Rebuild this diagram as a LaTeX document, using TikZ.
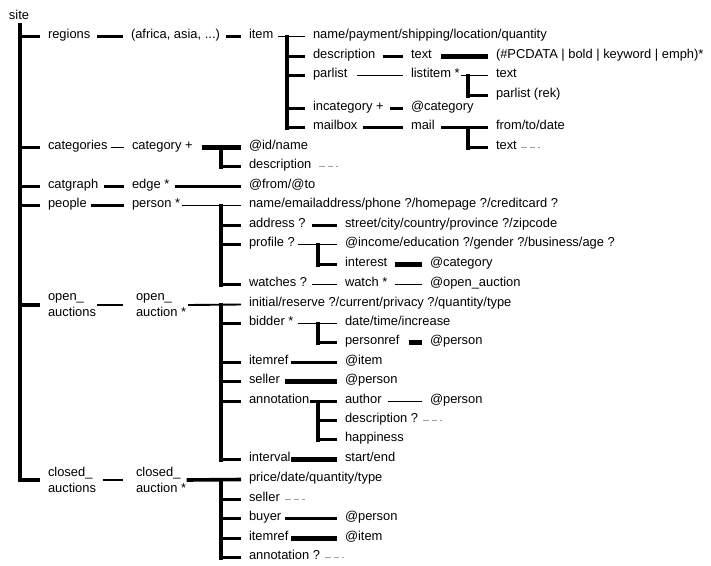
\documentclass[tikz,border=0pt]{standalone}
\usepackage{fontspec}
\newfontfamily\lbfamily{Liberation Sans}
\newcommand\lbfont{\lbfamily\fontsize{12.9}{15.8}\selectfont}
\begin{document}
\begin{tikzpicture}[x=1pt,y=-1pt,
  lbl/.style={anchor=mid west, inner sep=0pt, outer sep=0pt, font=\lbfont},
  two/.style={anchor=west, inner sep=0pt, outer sep=0pt, align=left, font=\lbfont},
  wA/.style={line width=1.9pt},
  wB/.style={line width=2.8pt},
  wC/.style={line width=3.6pt},
  wD/.style={line width=4.2pt},
  wE/.style={line width=5pt},
  vert/.style={line width=4pt, line cap=rect},
  gd/.style={draw=gray!75, line width=1.4pt, dash pattern=on 6pt off 3pt on 5pt off 3pt on 2.5pt off 20pt}]
\useasboundingbox (0,0) rectangle (711,565);
\begin{scope}[yshift=-1.5pt]
% ---- nodes ----
\node[lbl] (site) at (9,16) {site};
\coordinate (T) at (20,23);

\node[lbl] (reg) at (48,35) {regions};
\node[lbl] (cats) at (48,146) {categories};
\node[lbl] (cg) at (48,185) {catgraph};
\node[lbl] (ppl) at (48,204) {people};
\node[two] (oas) at (48,303.5) {open\_\\auctions};
\node[two] (cas) at (48,478.5) {closed\_\\auctions};

\node[lbl] (afr) at (131,35) {(africa, asia, ...)};
\node[lbl] (cat) at (132,146) {category +};
\node[lbl] (edge) at (132,185) {edge *};
\node[lbl] (per) at (132,204) {person *};
\node[two] (oa) at (136,303.5) {open\_\\auction *};
\node[two] (ca) at (136,478.5) {closed\_\\auction *};

\node[lbl] (item) at (249,35) {item};
\node[lbl] (npsl) at (313,35) {name/payment/shipping/location/quantity};
\node[lbl] (idesc) at (313,55) {description};
\node[lbl] (ipar) at (313,74) {parlist};
\node[lbl] (iinc) at (313,107) {incategory +};
\node[lbl] (imb) at (313,126) {mailbox};
\node[lbl] (dtext) at (411,55) {text};
\node[lbl] (pcd) at (496,55) {(\#PCDATA | bold | keyword | emph)*};
\node[lbl] (li) at (411,74) {listitem *};
\node[lbl] (litext) at (496,74) {text};
\node[lbl] (lipar) at (496,94) {parlist (rek)};
\node[lbl] (inccat) at (411,107) {@category};
\node[lbl] (mail) at (411,126) {mail};
\node[lbl] (ftd) at (496,126) {from/to/date};
\node[lbl] (mtext) at (496,146) {text};

\node[lbl] (idn) at (249,146) {@id/name};
\node[lbl] (cdesc) at (249,165) {description};
\node[lbl] (fromto) at (249,185) {@from/@to};

\node[lbl] (pname) at (249,204) {name/emailaddress/phone ?/homepage ?/creditcard ?};
\node[lbl] (addr) at (249,224) {address ?};
\node[lbl] (prof) at (249,243) {profile ?};
\node[lbl] (wat) at (249,283) {watches ?};
\node[lbl] (street) at (345,224) {street/city/country/province ?/zipcode};
\node[lbl] (inc) at (345,243) {@income/education ?/gender ?/business/age ?};
\node[lbl] (intr) at (345,263) {interest};
\node[lbl] (intcat) at (430,263) {@category};
\node[lbl] (watch) at (345,283) {watch *};
\node[lbl] (woa) at (430,283) {@open\_auction};

\node[lbl] (init) at (249,303) {initial/reserve ?/current/privacy ?/quantity/type};
\node[lbl] (bid) at (249,322) {bidder *};
\node[lbl] (dti) at (345,322) {date/time/increase};
\node[lbl] (pref) at (345,341) {personref};
\node[lbl] (prefp) at (430,341) {@person};
\node[lbl] (oir) at (249,361) {itemref};
\node[lbl] (oiri) at (345,361) {@item};
\node[lbl] (osel) at (249,380) {seller};
\node[lbl] (oselp) at (345,380) {@person};
\node[lbl] (oann) at (249,400) {annotation};
\node[lbl] (auth) at (345,400) {author};
\node[lbl] (authp) at (430,400) {@person};
\node[lbl] (adesc) at (345,419) {description ?};
\node[lbl] (happ) at (345,438) {happiness};
\node[lbl] (intv) at (249,458) {interval};
\node[lbl] (se) at (345,458) {start/end};

\node[lbl] (price) at (249,478) {price/date/quantity/type};
\node[lbl] (csel) at (249,498) {seller};
\node[lbl] (buy) at (249,517) {buyer};
\node[lbl] (buyp) at (345,517) {@person};
\node[lbl] (cir) at (249,537) {itemref};
\node[lbl] (ciri) at (345,537) {@item};
\node[lbl] (cann) at (249,556) {annotation ?};

% ---- trunk ----
\draw[vert] (T) -- (T |- cas.west);
\foreach \n in {reg,cats,cg,ppl}
  \draw[wC] (T |- \n.mid west) -- ([xshift=-8pt]\n.mid west);
\draw[wC] (T |- oas.west) -- ([xshift=-8pt]oas.west);
\draw[wC] (T |- cas.west) -- ([xshift=-8pt]cas.west);

% ---- level A -> B ----
\draw[wB] ([xshift=7pt]reg.mid east) -- ([xshift=-8pt]afr.mid west);
\draw[wA] ([xshift=3pt]cats.mid east) -- ([xshift=-8pt]cat.mid west);
\draw[wC] ([xshift=6pt]cg.mid east) -- ([xshift=-8pt]edge.mid west);
\draw[wC] ([xshift=4.5pt]ppl.mid east) -- ([xshift=-8pt]per.mid west);
\draw[wB] ([xshift=1pt]oas.east) -- ([xshift=-13pt]oa.west);
\draw[wB] ([xshift=6.5pt]cas.east) -- ([xshift=-13pt]ca.west);

% ---- regions ----
\draw[wB] ([xshift=6pt]afr.mid east) -- ([xshift=-8pt]item.mid west);
\draw[wA] ([xshift=5pt]item.mid east) -- ([xshift=-8pt]npsl.mid west);
\coordinate (V1) at (287,35);
\draw[vert] (V1) -- (V1 |- imb.mid west);
\foreach \n in {idesc,ipar,iinc,imb}
  \draw[wC] (V1 |- \n.mid west) -- ([xshift=-8pt]\n.mid west);
\draw[wB] ([xshift=8pt]idesc.mid east) -- ([xshift=-8pt]dtext.mid west);
\draw[wE] ([xshift=9.5pt]dtext.mid east) -- ([xshift=-8pt]pcd.mid west);
\draw[wA] ([xshift=9.5pt]ipar.mid east) -- ([xshift=-8pt]li.mid west);
\draw[wA] ([xshift=1.5pt]li.mid east) -- ([xshift=-8pt]litext.mid west);
\coordinate (V2) at (468,74);
\draw[vert] (V2) -- (V2 |- lipar.mid west);
\draw[wC] (V2 |- lipar.mid west) -- ([xshift=-8pt]lipar.mid west);
\draw[wB] ([xshift=6.5pt]iinc.mid east) -- ([xshift=-8pt]inccat.mid west);
\draw[wB] ([xshift=5.5pt]imb.mid east) -- ([xshift=-8pt]mail.mid west);
\draw[wB] ([xshift=6.5pt]mail.mid east) -- ([xshift=-8pt]ftd.mid west);
\coordinate (V3) at (468,126);
\draw[vert] (V3) -- (V3 |- mtext.mid west);
\draw[wC] (V3 |- mtext.mid west) -- ([xshift=-8pt]mtext.mid west);
\draw[gd] ([xshift=4pt]mtext.mid east) -- ++(20,0);

% ---- categories / catgraph ----
\draw[wD] ([xshift=9pt]cat.mid east) -- ([xshift=-8pt]idn.mid west);
\coordinate (V4) at (221,146);
\draw[vert] (V4) -- (V4 |- cdesc.mid west);
\draw[wC] (V4 |- cdesc.mid west) -- ([xshift=-8pt]cdesc.mid west);
\draw[gd] ([xshift=7.5pt]cdesc.mid east) -- ++(20,0);
\draw[wB] ([xshift=5.5pt]edge.mid east) -- ([xshift=-8pt]fromto.mid west);

% ---- people ----
\draw[wA] ([xshift=1.5pt]per.mid east) -- ([xshift=-8pt]pname.mid west);
\coordinate (V5) at (221,204);
\draw[vert] (V5) -- (V5 |- wat.mid west);
\foreach \n in {addr,prof,wat}
  \draw[wC] (V5 |- \n.mid west) -- ([xshift=-8pt]\n.mid west);
\draw[wB] ([xshift=6pt]addr.mid east) -- ([xshift=-8pt]street.mid west);
\draw[wA] ([xshift=3.5pt]prof.mid east) -- ([xshift=-8pt]inc.mid west);
\coordinate (V6) at (318,243);
\draw[vert] (V6) -- (V6 |- intr.mid west);
\draw[wC] (V6 |- intr.mid west) -- ([xshift=-8pt]intr.mid west);
\draw[wE] ([xshift=7.5pt]intr.mid east) -- ([xshift=-8pt]intcat.mid west);
\draw[wA] ([xshift=5pt]wat.mid east) -- ([xshift=-8pt]watch.mid west);
\draw[wA] ([xshift=7.5pt]watch.mid east) -- ([xshift=-8pt]woa.mid west);

% ---- open auctions ----
\draw[wA] ([xshift=2pt]oa.east) -- ([xshift=-8pt]init.mid west);
\coordinate (V7) at (221,303);
\draw[vert] (V7) -- (V7 |- intv.mid west);
\foreach \n in {bid,oir,osel,oann,intv}
  \draw[wC] (V7 |- \n.mid west) -- ([xshift=-8pt]\n.mid west);
\draw[wA] ([xshift=4.5pt]bid.mid east) -- ([xshift=-8pt]dti.mid west);
\coordinate (V8) at (318,322);
\draw[vert] (V8) -- (V8 |- pref.mid west);
\draw[wC] (V8 |- pref.mid west) -- ([xshift=-8pt]pref.mid west);
\draw[wE] ([xshift=9pt]pref.mid east) -- ([xshift=-8pt]prefp.mid west);
\draw[wC] ([xshift=2.5pt]oir.mid east) -- ([xshift=-8pt]oiri.mid west);
\draw[wE] ([xshift=5pt]osel.mid east) -- ([xshift=-8pt]oselp.mid west);
\draw[wB] ([xshift=0.5pt]oann.mid east) -- ([xshift=-8pt]auth.mid west);
\coordinate (V9) at (318,400);
\draw[vert] (V9) -- (V9 |- happ.mid west);
\foreach \n in {adesc,happ}
  \draw[wC] (V9 |- \n.mid west) -- ([xshift=-8pt]\n.mid west);
\draw[wA] ([xshift=6.5pt]auth.mid east) -- ([xshift=-8pt]authp.mid west);
\draw[gd] ([xshift=4.5pt]adesc.mid east) -- ++(20,0);
\draw[wE] ([xshift=0.5pt]intv.mid east) -- ([xshift=-8pt]se.mid west);

% ---- closed auctions ----
\draw[wC] ([xshift=0.5pt]ca.east) -- ([xshift=-8pt]price.mid west);
\coordinate (V10) at (221,478);
\draw[vert] (V10) -- (V10 |- cann.mid west);
\foreach \n in {csel,buy,cir,cann}
  \draw[wC] (V10 |- \n.mid west) -- ([xshift=-8pt]\n.mid west);
\draw[gd] ([xshift=5.5pt]csel.mid east) -- ++(20,0);
\draw[wC] ([xshift=3.5pt]buy.mid east) -- ([xshift=-8pt]buyp.mid west);
\draw[wE] ([xshift=2.5pt]cir.mid east) -- ([xshift=-8pt]ciri.mid west);
\draw[gd] ([xshift=4.5pt]cann.mid east) -- ++(20,0);
\end{scope}
\end{tikzpicture}
\end{document}
